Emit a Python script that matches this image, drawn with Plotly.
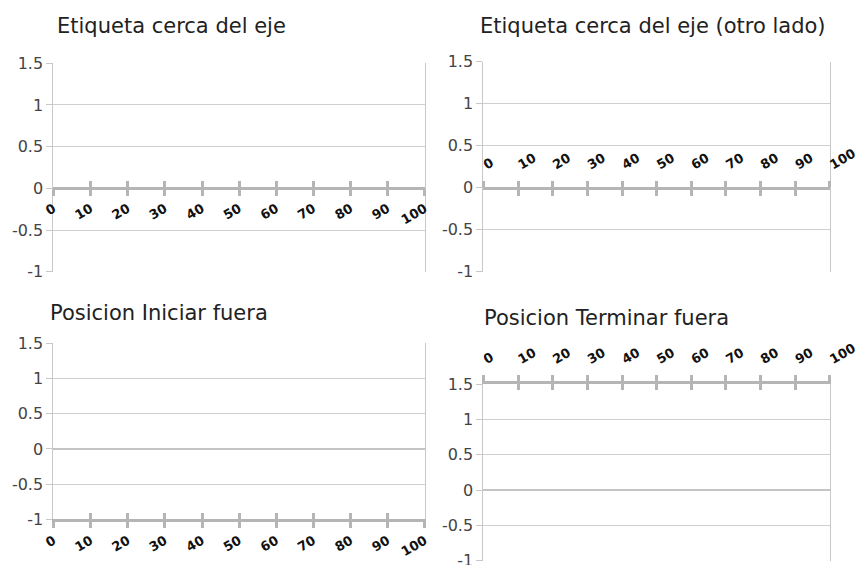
import plotly.graph_objects as go

# ---- data ----
x_tick_vals = [0, 10, 20, 30, 40, 50, 60, 70, 80, 90, 100]
x_tick_text = ["0", "10", "20", "30", "40", "50", "60", "70", "80", "90", "100"]
y_tick_vals = [-1, -0.5, 0, 0.5, 1, 1.5]
y_tick_text = ["-1", "-0.5", "0", "0.5", "1", "1.5"]
titles = [
    "Etiqueta cerca del eje",
    "Etiqueta cerca del eje (otro lado)",
    "Posicion Iniciar fuera",
    "Posicion Terminar fuera",
]
x_range = [-0.05, 100.05]
y_range = [-1, 1.5]

W, H = 858, 565
def fx(px):
    return px / W
def fy(py):
    return 1 - py / H

# pixel boxes (left, right, top, bottom)
boxes = [
    (53.3, 425, 63.3, 271.7),
    (483.3, 830, 61.7, 271.7),
    (53.3, 425, 343.3, 519.3),
    (483.3, 830, 384.3, 560.7),
]
title_pos = [(55, 26), (478, 26), (48, 313), (482, 318)]

GRID = "#cfcfcf"
AXIS = "#b5b5b5"
TXT = "#444444"
FONT = "DejaVu Sans"

fig = go.Figure()
layout = dict(
    width=W, height=H,
    margin=dict(l=0, r=0, t=0, b=0, autoexpand=False),
    paper_bgcolor="white", plot_bgcolor="white",
    showlegend=False,
    annotations=[],
)

for i, (l, r, t, b) in enumerate(boxes):
    n = i + 1
    xa = f"xaxis{n}" if n > 1 else "xaxis"
    ya = f"yaxis{n}" if n > 1 else "yaxis"
    xd = [fx(l), fx(r)]
    yd = [fy(b), fy(t)]
    # position of y=0 within the paper
    zero_pos = yd[0] + (0 - y_range[0]) / (y_range[1] - y_range[0]) * (yd[1] - yd[0])

    tickfont = dict(family=FONT, size=13, color="#111111", weight="bold")
    base_x = dict(
        domain=xd, range=x_range, tickmode="array",
        tickvals=x_tick_vals, ticktext=x_tick_text,
        showgrid=False, zeroline=False, showline=True,
        linecolor=AXIS, linewidth=3, ticks="outside", ticklen=6,
        tickwidth=2.5, tickcolor=AXIS, tickangle=-30, tickfont=tickfont,
        fixedrange=True, automargin=False, ticklabeloverflow="allow",
    )
    if i == 0:
        base_x.update(anchor="free", position=zero_pos, side="bottom")
    elif i == 1:
        base_x.update(anchor="free", position=zero_pos, side="top", ticklabelstandoff=5)
    elif i == 2:
        base_x.update(anchor=f"y{n}" if n > 1 else "y", side="bottom")
    else:
        base_x.update(anchor=f"y{n}", side="top", ticklabelstandoff=5)
    layout[xa] = base_x

    ydict = dict(
        domain=yd, range=y_range, tickmode="array",
        tickvals=y_tick_vals, ticktext=y_tick_text,
        showgrid=True, gridcolor=GRID, gridwidth=1,
        zeroline=(i >= 2), zerolinecolor="#c4c4c4", zerolinewidth=2,
        showline=True, mirror=True, linecolor="#c8c8c8", linewidth=1,
        ticks="outside", ticklen=6, tickcolor="#c8c8c8",
        tickfont=dict(family=FONT, size=16, color=TXT),
        anchor=f"x{n}" if n > 1 else "x",
        fixedrange=True, automargin=False, ticklabeloverflow="allow",
    )
    layout[ya] = ydict

    # overlay axis for ticks crossing the axis line
    on = n + 4
    oxa = f"xaxis{on}"
    ov = dict(base_x)
    ov.pop("domain")
    ov.update(overlaying=f"x{n}" if n > 1 else "x", ticks="inside",
              showticklabels=False, matches=f"x{n}" if n > 1 else "x")
    layout[oxa] = ov

    yref = f"y{n}" if n > 1 else "y"
    fig.add_trace(go.Scatter(x=[], y=[], xaxis=f"x{n}" if n > 1 else "x", yaxis=yref, hoverinfo="skip"))
    fig.add_trace(go.Scatter(x=[], y=[], xaxis=f"x{on}", yaxis=yref, hoverinfo="skip"))

    tx, ty = title_pos[i]
    layout["annotations"].append(dict(
        text=titles[i], x=fx(tx), y=fy(ty), xref="paper", yref="paper",
        xanchor="left", yanchor="middle", showarrow=False,
        font=dict(family=FONT, size=21, color="#222222"),
    ))

fig.update_layout(**layout)
fig.write_html(
    "out.html",
    config={"displayModeBar": False},
    post_script="document.body.style.margin='0';document.body.style.overflow='hidden';",
)
